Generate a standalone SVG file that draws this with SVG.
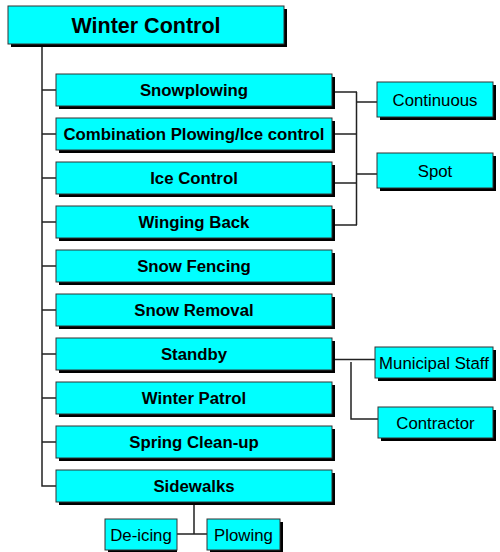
<svg xmlns="http://www.w3.org/2000/svg" width="500" height="552" viewBox="0 0 500 552">
<defs>
<style>
.sh{fill:#000}
.bx{fill:#00FFFF;stroke:#333;stroke-width:1}
.t{font-family:"Liberation Sans",Arial,sans-serif;font-size:16.8px;text-anchor:middle;fill:#000}
.b{font-weight:bold}
.ttl{font-family:"Liberation Sans",Arial,sans-serif;font-size:21.5px;font-weight:bold;text-anchor:middle;fill:#000}
.c{fill:none;stroke:#222;stroke-width:1.5}
</style>
</defs>
<rect width="500" height="552" fill="#fff"/>
<g id="connectors">
<path class="c" d="M42,44 V486 H56"/>
<path class="c" d="M42,90 H56 M42,134 H56 M42,178 H56 M42,222 H56 M42,266 H56 M42,310 H56 M42,354 H56 M42,398 H56 M42,442 H56"/>
<path class="c" d="M332,92 H357 M332,134 H357 M332,183 H357 M332,225 H357 M356.5,92 V225 M357,102 H377 M357,174 H377"/>
<path class="c" d="M332,359.5 H375 M351,362 V419 H378"/>
<path class="c" d="M194,502 V534 M177,534 H207"/>
</g>
<g id="winter-control">
<rect class="sh" x="11" y="9" width="276" height="38"/>
<rect class="bx" x="8" y="6" width="276" height="38"/>
<text class="ttl" x="146" y="33">Winter Control</text>
</g>
<g id="snowplowing">
<rect class="sh" x="59" y="77" width="276" height="32"/>
<rect class="bx" x="56" y="74" width="276" height="32"/>
<text class="t b" x="194" y="96">Snowplowing</text>
</g>
<g id="combination">
<rect class="sh" x="59" y="121" width="276" height="32"/>
<rect class="bx" x="56" y="118" width="276" height="32"/>
<text class="t b" x="194" y="140">Combination Plowing/Ice control</text>
</g>
<g id="ice-control">
<rect class="sh" x="59" y="165" width="276" height="32"/>
<rect class="bx" x="56" y="162" width="276" height="32"/>
<text class="t b" x="194" y="184">Ice Control</text>
</g>
<g id="winging-back">
<rect class="sh" x="59" y="209" width="276" height="32"/>
<rect class="bx" x="56" y="206" width="276" height="32"/>
<text class="t b" x="194" y="228">Winging Back</text>
</g>
<g id="snow-fencing">
<rect class="sh" x="59" y="253" width="276" height="32"/>
<rect class="bx" x="56" y="250" width="276" height="32"/>
<text class="t b" x="194" y="272">Snow Fencing</text>
</g>
<g id="snow-removal">
<rect class="sh" x="59" y="297" width="276" height="32"/>
<rect class="bx" x="56" y="294" width="276" height="32"/>
<text class="t b" x="194" y="316">Snow Removal</text>
</g>
<g id="standby">
<rect class="sh" x="59" y="341" width="276" height="32"/>
<rect class="bx" x="56" y="338" width="276" height="32"/>
<text class="t b" x="194" y="360">Standby</text>
</g>
<g id="winter-patrol">
<rect class="sh" x="59" y="385" width="276" height="32"/>
<rect class="bx" x="56" y="382" width="276" height="32"/>
<text class="t b" x="194" y="404">Winter Patrol</text>
</g>
<g id="spring-cleanup">
<rect class="sh" x="59" y="429" width="276" height="32"/>
<rect class="bx" x="56" y="426" width="276" height="32"/>
<text class="t b" x="194" y="448">Spring Clean-up</text>
</g>
<g id="sidewalks">
<rect class="sh" x="59" y="473" width="276" height="32"/>
<rect class="bx" x="56" y="470" width="276" height="32"/>
<text class="t b" x="194" y="492">Sidewalks</text>
</g>
<g id="continuous">
<rect class="sh" x="380" y="85" width="116" height="35"/>
<rect class="bx" x="377" y="82" width="116" height="35"/>
<text class="t" x="435" y="106">Continuous</text>
</g>
<g id="spot">
<rect class="sh" x="380" y="156" width="116" height="35"/>
<rect class="bx" x="377" y="153" width="116" height="35"/>
<text class="t" x="435" y="177">Spot</text>
</g>
<g id="municipal-staff">
<rect class="sh" x="378" y="350" width="118" height="31"/>
<rect class="bx" x="375" y="347" width="118" height="31"/>
<text class="t" x="434" y="368.5">Municipal Staff</text>
</g>
<g id="contractor">
<rect class="sh" x="381" y="410" width="115" height="31"/>
<rect class="bx" x="378" y="407" width="115" height="31"/>
<text class="t" x="435.5" y="428.5">Contractor</text>
</g>
<g id="de-icing">
<rect class="sh" x="108" y="522" width="69" height="31"/>
<rect class="bx" x="105" y="519" width="72" height="31"/>
<text class="t" x="141" y="540.5">De-icing</text>
</g>
<g id="plowing">
<rect class="sh" x="210" y="522" width="73" height="31"/>
<rect class="bx" x="207" y="519" width="73" height="31"/>
<text class="t" x="243.5" y="540.5">Plowing</text>
</g>
</svg>
